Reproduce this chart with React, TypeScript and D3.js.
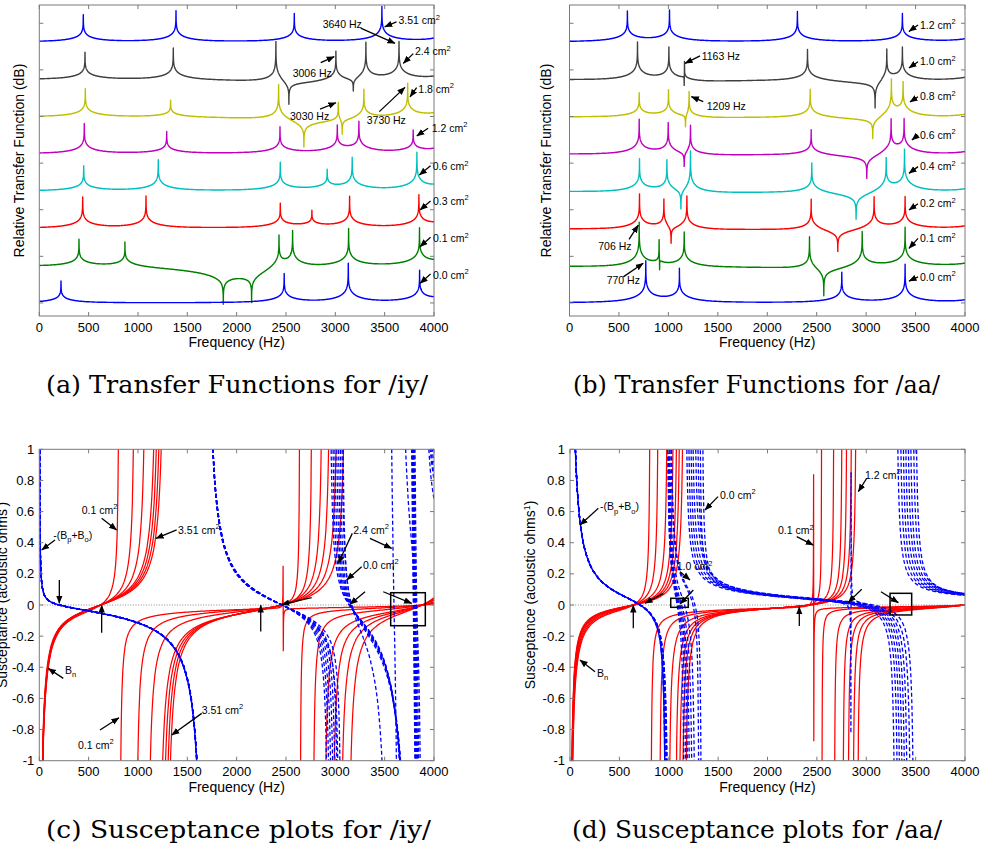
import React from "react";
import * as d3 from "d3";

const WIDTH = 985;
const HEIGHT = 852;
const SANS = "Arial, 'Liberation Sans', Helvetica, sans-serif";
const SERIF = "'DejaVu Serif', 'Liberation Serif', serif";

// ---------- shared axis values ----------
const freqTicks = [0, 500, 1000, 1500, 2000, 2500, 3000, 3500, 4000];
const levelTicks = [0, -20, -40, -60, -80, -100, -120];
const suscTicks = [1, 0.8, 0.6, 0.4, 0.2, 0, -0.2, -0.4, -0.6, -0.8, -1];
const suscTickLabels = ["1", "0.8", "0.6", "0.4", "0.2", "0", "-0.2", "-0.4", "-0.6", "-0.8", "-1"];

// ---------- transfer functions ----------
const tfColors = ["#0000ff", "#404040", "#bfbf00", "#bf00bf", "#00bfbf", "#ff0000", "#008000", "#0000ff"];

// /iy/ : velopharyngeal port area of each trace, trace level at 0 Hz (dB)
const iyAreas = ["3.51", "2.4", "1.8", "1.2", "0.6", "0.3", "0.1", "0.0"];
const iyLevels = [-8, -24, -40, -56, -72, -88, -104, -120];
// [frequency (Hz), strength (dB)] ; negative strength = anti-resonance
const iyResonances = [
  [[446, 11.6], [1385, 13.3], [2584, 12], [3472, 15], [4130, 12]],
  [[463, 11.6], [1358, 13.7], [2398, 19], [2530, -13], [3006, 13.5], [3182, -8], [3310, 17], [3645, 16.3], [4150, 12]],
  [[466, 12], [1331, 7.3], [2425, 16], [2682, -13.5], [3030, 10], [3070, -10], [3290, 13.3], [3733, 14.6], [4120, 12]],
  [[456, 12.9], [1291, 9.4], [2439, 11.2], [3020, 11.2], [3239, 12.9], [3789, 9.4], [4100, 11]],
  [[450, 10.7], [1206, 13.3], [2442, 12], [2918, 8.2], [3171, 13.7], [3827, 15.9], [4110, 11]],
  [[440, 13.3], [1081, 13.7], [2442, 10.3], [2763, 6.9], [3145, 13.3], [3847, 13.7], [4120, 11]],
  [[402, 11.6], [868, 10.8], [1865, -15], [2152, -15], [2429, 14.5], [2567, 15.6], [3135, 16.3], [3853, 15.9], [4130, 11]],
  [[220, 9.4], [2482, 12.4], [3131, 16.7], [3854, 13.3], [4140, 11]],
];

// /aa/
const aaAreas = ["1.2", "1.0", "0.8", "0.6", "0.4", "0.2", "0.1", "0.0"];
const aaLevels = [-8, -24, -40, -56, -72, -88, -104, -120];
const aaResonances = [
  [[586, 12.9], [1011, 13.3], [2305, 12.9], [3367, 12], [4150, 12]],
  [[688, 16.3], [1005, 14.5], [1160, -12.2], [1163, 13.7], [2407, 13.7], [3091, -15], [3209, 15], [3367, 14.5], [4150, 12]],
  [[705, 10.3], [1001, 12], [1173, -9], [1210, 13], [2434, 12.4], [3067, -11.5], [3256, 16.3], [3374, 14.4], [4150, 11]],
  [[705, 15], [998, 13.9], [1160, -9.7], [1224, 14.1], [2444, 11.2], [3007, -12], [3253, 15.2], [3384, 14.7], [4150, 11]],
  [[708, 14.2], [985, 14.4], [1127, -12.3], [1224, 19.4], [2451, 13.3], [2899, -13.3], [3203, 14.7], [3388, 17.9], [4150, 11]],
  [[708, 15.1], [955, 14], [1028, -10.8], [1187, 15], [2444, 14], [2714, -11.2], [3081, 14.2], [3394, 13.7], [4150, 11]],
  [[705, 19.4], [906, 16], [911, -12], [1160, 15.2], [2427, 15.3], [2572, -15], [2960, 15.7], [3394, 16.7], [4150, 11]],
  [[772, 17.6], [1112, 14.2], [2754, 12.9], [3394, 16.3], [4150, 11]],
];

// ---------- susceptances ----------
// B_n for /iy/: shared zero crossings, per-area poles and gain
const iyPortAreas = ["0.1", "0.3", "0.6", "1.2", "1.8", "2.4", "3.51"];
const iyBnGain = [35, 32, 34, 37, 36, 35, 34];
const iyBnZeros = [620, 2460, 3880];
const iyBnPoles = [
  [813, 2472, 4300],
  [975, 2642, 4300],
  [1091, 2770, 4300],
  [1203, 2880, 4300],
  [1231, 2960, 4300],
  [1257, 3040, 4300],
  [1281, 3120, 4300],
];
// -(Bp+Bo) for /iy/
const iyBpoAreas = ["0.0", "0.1", "0.3", "0.6", "1.2", "1.8", "2.4", "3.51"];
const iyBpoGain = 3.5;
const iyBpoZeros = [
  [203, 2460, 3140, 3790],
  [203, 2460, 3144, 3795],
  [203, 2460, 3148, 3800],
  [203, 2460, 3152, 3805],
  [203, 2460, 3156, 3810],
  [203, 2460, 3160, 3815],
  [203, 2460, 3164, 3595, 3820],
  [203, 2460, 3168, 3825],
];
const iyBpoPoles = [
  [1680, 2935, 3740, 3840],
  [1680, 2955, 3745, 3845],
  [1680, 2975, 3750, 3852],
  [1680, 2995, 3755, 3860],
  [1680, 3015, 3760, 3870],
  [1680, 3035, 3765, 3880],
  [1680, 3050, 3540, 3650, 3885],
  [1680, 3065, 3770, 3890],
];
const iySolidIndex = 0;

// B_n for /aa/
const aaPortAreas = ["0.1", "0.2", "0.4", "0.6", "0.8", "1.0", "1.2"];
const aaBnGain = [28, 26, 24, 22, 21, 20, 19];
const aaBnZeros = [640, 2420, 3990];
const aaBnPoles = [
  [815, 2468, 4400],
  [900, 2550, 4400],
  [995, 2675, 4400],
  [1060, 2760, 4400],
  [1095, 2810, 4400],
  [1125, 2860, 4400],
  [1158, 2905, 4400],
];
// -(Bp+Bo) for /aa/
const aaBpoAreas = ["0.0", "0.1", "0.2", "0.4", "0.6", "0.8", "1.0", "1.2"];
const aaBpoGain = 55;
const aaBpoZeros = [
  [710, 1265, 3070],
  [710, 1245, 2800, 3040],
  [710, 1160, 3010],
  [710, 1130, 2985],
  [710, 1115, 2960],
  [710, 1105, 2935],
  [710, 1095, 2910],
  [710, 1085, 2880],
];
const aaBpoPoles = [
  [1005, 1335, 3490],
  [1000, 1310, 2846, 3460],
  [995, 1275, 3430],
  [990, 1250, 3405],
  [986, 1225, 3380],
  [982, 1205, 3355],
  [978, 1185, 3330],
  [975, 1165, 3300],
];
const aaSolidIndex = 7;

// ---------- annotations (data units: Hz, dB or susceptance) ----------
const iyAreaNotes = [
  { text: [3640, 1.1], tail: [3620, 0.6], head: [3500, -1.5] },
  { text: [3807, -12.2], tail: [3790, -13.0], head: [3689, -17.2] },
  { text: [3841, -28.3], tail: [3824, -27.6], head: [3757, -31.6] },
  { text: [3977, -45.0], tail: [3940, -45.0], head: [3825, -48.4] },
  { text: [3987, -61.5], tail: [3965, -61.1], head: [3851, -65.1] },
  { text: [3990, -76.3], tail: [3965, -76.3], head: [3858, -80.1] },
  { text: [3990, -92.3], tail: [3965, -91.8], head: [3858, -95.9] },
  { text: [3990, -108.0], tail: [3965, -107.6], head: [3858, -111.6] },
];
const iyHzNotes = [
  { label: "3640 Hz", text: [2872, -0.3], tail: [3257, -2.1], head: [3605, -8.6] },
  { label: "3006 Hz", text: [2568, -21.3], tail: [2852, -16.9], head: [2989, -14.3] },
  { label: "3030 Hz", text: [2541, -39.8], tail: [2845, -36.8], head: [3007, -34.1] },
  { label: "3730 Hz", text: [3318, -41.5], tail: [3446, -37.9], head: [3706, -27.5] },
];
const aaAreaNotes = [
  { text: [3545, -0.7], tail: [3525, -0.7], head: [3433, -3.5] },
  { text: [3545, -16.5], tail: [3525, -16.5], head: [3433, -19.2] },
  { text: [3545, -31.5], tail: [3525, -31.5], head: [3443, -33.8] },
  { text: [3545, -47.9], tail: [3525, -47.9], head: [3463, -50.1] },
  { text: [3545, -61.5], tail: [3525, -61.5], head: [3433, -64.4] },
  { text: [3545, -77.4], tail: [3525, -77.4], head: [3433, -80.1] },
  { text: [3545, -92.3], tail: [3525, -92.3], head: [3433, -96.6] },
  { text: [3545, -108.8], tail: [3525, -108.8], head: [3433, -110.6] },
];
const aaHzNotes = [
  { label: "1163 Hz", text: [1337, -14.0], tail: [1320, -14.0], head: [1168, -17.2] },
  { label: "1209 Hz", text: [1388, -35.5], tail: [1353, -33.6], head: [1232, -31.5] },
  { label: "706 Hz", text: [291, -95.6], tail: [602, -92.7], head: [696, -86.6] },
  { label: "770 Hz", text: [376, -110.2], tail: [544, -108.8], head: [746, -103.0] },
];

const iySuscLabels = [
  { kind: "bpo", at: [142, 0.45] },
  { kind: "bn", at: [260, -0.417] },
  { kind: "area", value: "0.1", at: [430, 0.61] },
  { kind: "area", value: "3.51", at: [1406, 0.482] },
  { kind: "area", value: "0.1", at: [392, -0.9] },
  { kind: "area", value: "3.51", at: [1646, -0.674] },
  { kind: "area", value: "2.4", at: [3182, 0.482] },
  { kind: "area", value: "0.0", at: [3281, 0.257] },
];
const iySuscArrows = [
  [[159, 0.417], [24, 0.353]],
  [[243, -0.471], [91, -0.407]],
  [[632, 0.557], [784, 0.482]],
  [[1392, 0.482], [1183, 0.428]],
  [[615, -0.803], [808, -0.724]],
  [[1646, -0.696], [1342, -0.835]],
  [[203, 0.16], [203, 0.011]],
  [[632, -0.178], [632, 0.0]],
  [[3172, 0.46], [3030, 0.268]],
  [[3351, 0.428], [3571, 0.364]],
  [[3267, 0.246], [3115, 0.161]],
  [[2760, 0.047], [2456, 0.0045]],
  [[2244, -0.171], [2244, 0.0]],
  [[3301, 0.085], [3149, 0.0045]],
  [[3486, 0.085], [3774, 0.011]],
];
const iySuscBoxes = [[[3561, 0.079], [3912, -0.133]]];

const aaSuscLabels = [
  { kind: "bpo", at: [304, 0.631] },
  { kind: "bn", at: [273, -0.437] },
  { kind: "area", value: "0.0", at: [1519, 0.706] },
  { kind: "area", value: "1.0", at: [1080, 0.246] },
  { kind: "area", value: "1.2", at: [2987, 0.835] },
  { kind: "area", value: "0.1", at: [2106, 0.477] },
];
const aaSuscArrows = [
  [[287, 0.621], [101, 0.514]],
  [[253, -0.428], [101, -0.353]],
  [[1499, 0.696], [1367, 0.61]],
  [[1114, 0.214], [1215, 0.161]],
  [[3005, 0.814], [2920, 0.728]],
  [[2296, 0.439], [2464, 0.385]],
  [[1249, 0.096], [1114, 0.006]],
  [[945, 0.075], [759, 0.011]],
  [[641, -0.15], [641, 0.0]],
  [[3149, 0.085], [3325, 0.015]],
  [[2954, 0.101], [2818, 0.017]],
  [[2322, -0.135], [2322, -0.011]],
];
const aaSuscBoxes = [
  [[1020, 0.043], [1198, -0.015]],
  [[3241, 0.075], [3460, -0.064]],
];

// ---------- layout ----------
const boxA = { x0: 39.3, x1: 434, y0: 5, y1: 316 };
const boxB = { x0: 569.5, x1: 965, y0: 5, y1: 316 };
const boxC = { x0: 39.3, x1: 434, y0: 449.3, y1: 760.7 };
const boxD = { x0: 570, x1: 965, y0: 449.3, y1: 760.7 };
const LEVEL_TOP = 7.85;
const LEVEL_BOTTOM = -125.6;

// ---------- models ----------
const SHARPNESS = 0.1;
const PEAK_SPREAD = 300;
const DIP_SPREAD = 1000;
const peakNorm = Math.log1p((PEAK_SPREAD * PEAK_SPREAD) / (SHARPNESS * SHARPNESS));
const dipNorm = Math.log1p((DIP_SPREAD * DIP_SPREAD) / (SHARPNESS * SHARPNESS));

function transferLevel(f, level, res) {
  let v = level;
  for (const [fr, a] of res) {
    const d = f - fr;
    if (a > 0) v += (a * Math.log1p((PEAK_SPREAD * PEAK_SPREAD) / (d * d + SHARPNESS * SHARPNESS))) / peakNorm;
    else v += (a * Math.log1p((DIP_SPREAD * DIP_SPREAD) / (d * d + SHARPNESS * SHARPNESS))) / dipNorm;
  }
  return v;
}

function susceptance(f, sign, gain, zeros, poles) {
  let v = (sign * gain) / f;
  for (const z of zeros) v *= 1 - (f * f) / (z * z);
  for (const p of poles) v /= 1 - (f * f) / (p * p);
  return v;
}

function makeLine(x, y) {
  const ln = d3
    .line()
    .defined((d) => d !== null)
    .x((d) => x(d[0]))
    .y((d) => y(d[1]));
  if (typeof ln.digits === "function") ln.digits(1);
  return ln;
}

function branchPath(line, freqs, fn) {
  const pts = [];
  let prev = null;
  for (const f of freqs) {
    const v = fn(f);
    if (!Number.isFinite(v)) {
      pts.push(null);
      prev = null;
      continue;
    }
    if (prev !== null && prev * v < 0 && Math.abs(prev) + Math.abs(v) > 2) pts.push(null);
    pts.push([f, Math.max(-4, Math.min(4, v))]);
    prev = v;
  }
  return line(pts);
}

// ---------- small drawing helpers ----------
function AreaText({ x, y, value }) {
  return (
    <text x={x} y={y} dy="0.35em" fontSize={10.5} fontFamily={SANS} fill="#000">
      {value} cm
      <tspan dy={-4.5} fontSize={7.5}>
        2
      </tspan>
    </text>
  );
}

function Arrow({ x1, y1, x2, y2 }) {
  return <line x1={x1} y1={y1} x2={x2} y2={y2} stroke="#000" strokeWidth={1.3} markerEnd="url(#arrowhead)" />;
}

function Frame({ box, x, y, yTicks }) {
  const len = 4;
  return (
    <g stroke="#7a7a7a" strokeWidth={1} fill="none">
      <rect x={box.x0} y={box.y0} width={box.x1 - box.x0} height={box.y1 - box.y0} />
      {freqTicks.map((t) => (
        <g key={"x" + t}>
          <line x1={x(t)} x2={x(t)} y1={box.y1} y2={box.y1 - len} />
          <line x1={x(t)} x2={x(t)} y1={box.y0} y2={box.y0 + len} />
        </g>
      ))}
      {yTicks.map((t) => (
        <g key={"y" + t}>
          <line x1={box.x0} x2={box.x0 + len} y1={y(t)} y2={y(t)} />
          <line x1={box.x1} x2={box.x1 - len} y1={y(t)} y2={y(t)} />
        </g>
      ))}
    </g>
  );
}

function FreqAxisText({ box, x }) {
  const cx = (box.x0 + box.x1) / 2;
  return (
    <g fontFamily={SANS} fill="#000">
      {freqTicks.map((t) => (
        <text key={t} x={x(t)} y={box.y1 + 11} dy="0.35em" fontSize={13} textAnchor="middle">
          {t}
        </text>
      ))}
      <text x={cx} y={box.y1 + 26} dy="0.35em" fontSize={14} textAnchor="middle">
        Frequency (Hz)
      </text>
    </g>
  );
}

// ---------- transfer function panel ----------
function TransferPanel({ box, clipId, levels, resonances, areas, areaNotes, hzNotes, yLabelX }) {
  const x = d3.scaleLinear().domain([0, 4000]).range([box.x0, box.x1]);
  const y = d3.scaleLinear().domain([LEVEL_BOTTOM, LEVEL_TOP]).range([box.y1, box.y0]);
  const freqs = d3.range(0, 4001, 1);
  const line = makeLine(x, y);
  const paths = levels.map((lv, i) => line(freqs.map((f) => [f, transferLevel(f, lv, resonances[i])])));
  const cy = (box.y0 + box.y1) / 2;
  return (
    <g>
      <g clipPath={`url(#${clipId})`}>
        {paths.map((p, i) => (
          <path key={i} d={p} fill="none" stroke={tfColors[i]} strokeWidth={1.4} strokeLinejoin="round" />
        ))}
      </g>
      <Frame box={box} x={x} y={y} yTicks={levelTicks} />
      <FreqAxisText box={box} x={x} />
      <text
        transform={`translate(${yLabelX},${cy}) rotate(-90)`}
        textAnchor="middle"
        dy="0.35em"
        fontSize={14}
        fontFamily={SANS}
      >
        Relative Transfer Function (dB)
      </text>
      {areaNotes.map((n, i) => (
        <g key={"a" + i}>
          <Arrow x1={x(n.tail[0])} y1={y(n.tail[1])} x2={x(n.head[0])} y2={y(n.head[1])} />
          <AreaText x={x(n.text[0])} y={y(n.text[1])} value={areas[i]} />
        </g>
      ))}
      {hzNotes.map((n, i) => (
        <g key={"h" + i}>
          <Arrow x1={x(n.tail[0])} y1={y(n.tail[1])} x2={x(n.head[0])} y2={y(n.head[1])} />
          <text x={x(n.text[0])} y={y(n.text[1])} dy="0.35em" fontSize={10.5} fontFamily={SANS}>
            {n.label}
          </text>
        </g>
      ))}
    </g>
  );
}

// ---------- susceptance panel ----------
function SuscLabel({ item, x, y }) {
  const px = x(item.at[0]);
  const py = y(item.at[1]);
  if (item.kind === "area") return <AreaText x={px} y={py} value={item.value} />;
  if (item.kind === "bn")
    return (
      <text x={px} y={py} dy="0.35em" fontSize={10.5} fontFamily={SANS}>
        B
        <tspan dy={3.5} fontSize={7.5}>
          n
        </tspan>
      </text>
    );
  return (
    <text x={px} y={py} dy="0.35em" fontSize={10.5} fontFamily={SANS}>
      -(B
      <tspan dy={3.5} fontSize={7.5}>
        p
      </tspan>
      <tspan dy={-3.5}>+B</tspan>
      <tspan dy={3.5} fontSize={7.5}>
        o
      </tspan>
      <tspan dy={-3.5}>)</tspan>
    </text>
  );
}

function SusceptancePanel({ box, clipId, bnGain, bnZeros, bnPoles, bpoGain, bpoZeros, bpoPoles, solidIndex, labels, arrows, boxes, yLabelX, supText }) {
  const x = d3.scaleLinear().domain([0, 4000]).range([box.x0, box.x1]);
  const y = d3.scaleLinear().domain([-1, 1]).range([box.y1, box.y0]);
  const freqs = d3.range(1, 4000, 2);
  const line = makeLine(x, y);
  const redPaths = bnGain.map((g, i) => branchPath(line, freqs, (f) => susceptance(f, -1, g, bnZeros, bnPoles[i])));
  const bluePaths = bpoZeros.map((zs, i) => branchPath(line, freqs, (f) => susceptance(f, 1, bpoGain, zs, bpoPoles[i])));
  const sz = bpoZeros[solidIndex];
  const sp = bpoPoles[solidIndex];
  const solidFreqs = freqs.filter((f) => f < sp[0]);
  const solidPath = branchPath(line, solidFreqs, (f) => susceptance(f, 1, bpoGain, sz, sp));
  const cy = (box.y0 + box.y1) / 2 - 10;
  return (
    <g>
      <line x1={box.x0} x2={box.x1} y1={y(0)} y2={y(0)} stroke="#8c8c8c" strokeWidth={1} strokeDasharray="1,1.6" />
      <g clipPath={`url(#${clipId})`}>
        {redPaths.map((p, i) => (
          <path key={"r" + i} d={p} fill="none" stroke="#ff0000" strokeWidth={1.25} />
        ))}
        {bluePaths.map((p, i) => (
          <path key={"b" + i} d={p} fill="none" stroke="#0000ff" strokeWidth={1.3} strokeDasharray="4,2.5" />
        ))}
        <path d={solidPath} fill="none" stroke="#0000ff" strokeWidth={1.5} />
      </g>
      <Frame box={box} x={x} y={y} yTicks={suscTicks} />
      <FreqAxisText box={box} x={x} />
      <g fontFamily={SANS} fontSize={13}>
        {suscTicks.map((t, i) => (
          <text key={t} x={box.x0 - 5} y={y(t)} dy="0.35em" textAnchor="end">
            {suscTickLabels[i]}
          </text>
        ))}
      </g>
      <text transform={`translate(${yLabelX},${cy}) rotate(-90)`} textAnchor="middle" dy="0.35em" fontSize={14} fontFamily={SANS}>
        Susceptance (acoustic ohms
        <tspan dy={-5} fontSize={9}>
          {supText}
        </tspan>
        <tspan dy={5}>)</tspan>
      </text>
      {boxes.map((b, i) => (
        <rect
          key={"bx" + i}
          x={x(b[0][0])}
          y={y(b[0][1])}
          width={x(b[1][0]) - x(b[0][0])}
          height={y(b[1][1]) - y(b[0][1])}
          fill="none"
          stroke="#000"
          strokeWidth={1.5}
        />
      ))}
      {arrows.map((a, i) => (
        <Arrow key={"ar" + i} x1={x(a[0][0])} y1={y(a[0][1])} x2={x(a[1][0])} y2={y(a[1][1])} />
      ))}
      {labels.map((l, i) => (
        <SuscLabel key={"l" + i} item={l} x={x} y={y} />
      ))}
    </g>
  );
}

function Caption({ x0, x1, y, children }) {
  return (
    <text
      x={x0}
      y={y}
      dy="0.35em"
      fontSize={24}
      fontFamily={SERIF}
      textLength={x1 - x0}
      lengthAdjust="spacingAndGlyphs"
      fill="#000"
    >
      {children}
    </text>
  );
}

export default function App() {
  const clips = [
    ["clipA", boxA],
    ["clipB", boxB],
    ["clipC", boxC],
    ["clipD", boxD],
  ];
  return (
    <svg
      width={WIDTH}
      height={HEIGHT}
      viewBox={`0 0 ${WIDTH} ${HEIGHT}`}
      style={{ position: "absolute", left: 0, top: 0, background: "#fff" }}
    >
      <defs>
        <marker id="arrowhead" viewBox="0 0 10 10" refX="9.5" refY="5" markerWidth="8" markerHeight="8" markerUnits="userSpaceOnUse" orient="auto">
          <path d="M0,1 L10,5 L0,9 z" fill="#000" />
        </marker>
        {clips.map(([id, b]) => (
          <clipPath id={id} key={id}>
            <rect x={b.x0} y={b.y0} width={b.x1 - b.x0} height={b.y1 - b.y0} />
          </clipPath>
        ))}
      </defs>
      <rect x={0} y={0} width={WIDTH} height={HEIGHT} fill="#fff" />

      <TransferPanel
        box={boxA}
        clipId="clipA"
        levels={iyLevels}
        resonances={iyResonances}
        areas={iyAreas}
        areaNotes={iyAreaNotes}
        hzNotes={iyHzNotes}
        yLabelX={19}
      />
      <TransferPanel
        box={boxB}
        clipId="clipB"
        levels={aaLevels}
        resonances={aaResonances}
        areas={aaAreas}
        areaNotes={aaAreaNotes}
        hzNotes={aaHzNotes}
        yLabelX={546}
      />
      <SusceptancePanel
        box={boxC}
        clipId="clipC"
        bnGain={iyBnGain}
        bnZeros={iyBnZeros}
        bnPoles={iyBnPoles}
        bpoGain={iyBpoGain}
        bpoZeros={iyBpoZeros}
        bpoPoles={iyBpoPoles}
        solidIndex={iySolidIndex}
        labels={iySuscLabels}
        arrows={iySuscArrows}
        boxes={iySuscBoxes}
        yLabelX={2}
        supText=" "
      />
      <SusceptancePanel
        box={boxD}
        clipId="clipD"
        bnGain={aaBnGain}
        bnZeros={aaBnZeros}
        bnPoles={aaBnPoles}
        bpoGain={aaBpoGain}
        bpoZeros={aaBpoZeros}
        bpoPoles={aaBpoPoles}
        solidIndex={aaSolidIndex}
        labels={aaSuscLabels}
        arrows={aaSuscArrows}
        boxes={aaSuscBoxes}
        yLabelX={530}
        supText="1"
      />

      <Caption x0={46} x1={428} y={385}>(a) Transfer Functions for /iy/</Caption>
      <Caption x0={573} x1={940} y={385}>(b) Transfer Functions for /aa/</Caption>
      <Caption x0={46} x1={431} y={830}>(c) Susceptance plots for /iy/</Caption>
      <Caption x0={572} x1={942} y={830}>(d) Susceptance plots for /aa/</Caption>
    </svg>
  );
}
